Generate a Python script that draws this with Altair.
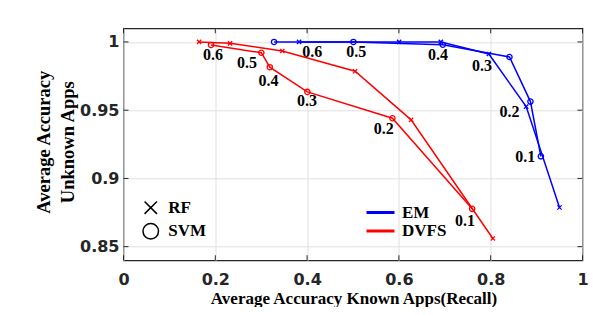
import altair as alt
import pandas as pd

# ---- data ----
thresholds = ["0.6", "0.5", "0.4", "0.3", "0.2", "0.1"]

em_rf_x = [0.3825, 0.6005, 0.6914, 0.796, 0.8773, 0.9499]
em_rf_y = [1.0, 1.0, 1.0, 0.9912, 0.9526, 0.8787]
em_svm_x = [0.328, 0.5009, 0.6957, 0.8409, 0.8866, 0.9093]
em_svm_y = [1.0, 1.0, 0.998, 0.989, 0.9563, 0.9162]
dvfs_rf_x = [0.1646, 0.2321, 0.346, 0.5046, 0.6266, 0.8047]
dvfs_rf_y = [1.0, 0.999, 0.9934, 0.9785, 0.9429, 0.856]
dvfs_svm_x = [0.1907, 0.3003, 0.3187, 0.4006, 0.5859, 0.7596]
dvfs_svm_y = [0.9978, 0.9921, 0.9815, 0.9634, 0.9441, 0.8777]

em_label_x = [0.411, 0.507, 0.685, 0.781, 0.841, 0.875]
em_label_y = [0.9927, 0.9923, 0.9905, 0.9824, 0.9484, 0.9154]
dvfs_label_x = [0.195, 0.269, 0.316, 0.400, 0.567, 0.744]
dvfs_label_y = [0.9905, 0.9848, 0.9714, 0.9568, 0.9365, 0.8691]

x_ticks = [0, 0.2, 0.4, 0.6, 0.8, 1.0]
y_ticks = [0.85, 0.9, 0.95, 1.0]

methods = ["EM", "DVFS"]
classifiers = ["RF", "SVM"]

# ---- tables ----
rows = []
for m, c, xs_, ys_ in [
    ("EM", "RF", em_rf_x, em_rf_y),
    ("EM", "SVM", em_svm_x, em_svm_y),
    ("DVFS", "RF", dvfs_rf_x, dvfs_rf_y),
    ("DVFS", "SVM", dvfs_svm_x, dvfs_svm_y),
]:
    for i, (a, b) in enumerate(zip(xs_, ys_)):
        rows.append({"method": m, "clf": c, "series": m + c, "i": i, "x": a, "y": b})
df = pd.DataFrame(rows)

lab_rows = []
for lx, ly in [(em_label_x, em_label_y), (dvfs_label_x, dvfs_label_y)]:
    for t, a, b in zip(thresholds, lx, ly):
        lab_rows.append({"t": t, "x": a, "y": b})
labels_df = pd.DataFrame(lab_rows)

xt_df = pd.DataFrame({"x": x_ticks})
yt_df = pd.DataFrame({"y": y_ticks})

W, H = 459, 232
FRAME = "#262626"
XPATH = "M-0.8,-0.8L0.8,0.8M-0.8,0.8L0.8,-0.8"
LINEPATH = "M-2,0L2,0"

xscale = alt.Scale(domain=[0, 1], nice=False, zero=False)
yscale = alt.Scale(domain=[0.84, 1.01], nice=False, zero=False)

x_enc = alt.X(
    "x:Q",
    scale=xscale,
    axis=alt.Axis(
        values=x_ticks, format="~g", title="Average Accuracy Known Apps(Recall)",
        grid=True, gridColor="#e0e0e0", gridWidth=1, ticks=False, tickSize=0, domain=False,
        labelFont="DejaVu Sans", labelFontWeight="bold", labelFontSize=16,
        labelColor=FRAME, labelPadding=11.5, labelFlush=False,
        titleFont="Liberation Serif", titleFontSize=17, titleFontWeight="bold",
        titleColor="black", titleX=230, titleY=43, titleBaseline="alphabetic",
        titleAlign="center",
    ),
)
y_enc = alt.Y(
    "y:Q",
    scale=yscale,
    axis=alt.Axis(
        values=y_ticks, format="~g", title=["Average Accuracy", "Unknown Apps"],
        grid=True, gridColor="#e0e0e0", gridWidth=1, ticks=False, tickSize=0, domain=False,
        labelFont="DejaVu Sans", labelFontWeight="bold", labelFontSize=16,
        labelColor=FRAME, labelPadding=4.5, labelFlush=False,
        titleFont="Liberation Serif", titleFontSize=18.5, titleFontWeight="bold",
        titleColor="black", titleAngle=270, titleX=-80, titleY=113.4,
        titleBaseline="middle", titleAlign="center", titleLineHeight=24,
    ),
)

color_enc = alt.Color(
    "method:N",
    scale=alt.Scale(domain=methods, range=["#0000ff", "#ff0000"]),
    legend=alt.Legend(
        title=None, orient="none", legendX=248.5, legendY=175.7,
        symbolType=LINEPATH, symbolSize=196, symbolStrokeWidth=3,
        symbolFillColor="transparent",
        labelFont="Liberation Serif", labelFontWeight="bold", labelFontSize=17,
        labelColor="black", labelOffset=13, rowPadding=0.5, padding=0,
    ),
)
shape_enc = alt.Shape(
    "clf:N",
    scale=alt.Scale(domain=classifiers, range=[XPATH, "circle"]),
    legend=alt.Legend(
        title=None, orient="none", legendX=18.75, legendY=170.9,
        symbolSize=240, symbolStrokeColor="black", symbolFillColor="transparent",
        symbolStrokeWidth=1.5,
        labelFont="Liberation Serif", labelFontWeight="bold", labelFontSize=17,
        labelColor="black", labelOffset=9, rowPadding=2.5, padding=0,
    ),
)

lines = alt.Chart(df).mark_line(strokeWidth=1.5).encode(
    x=x_enc, y=y_enc, color=color_enc, detail="series:N", order="i:Q"
)
points = alt.Chart(df).mark_point(filled=False, size=28, strokeWidth=1.3, opacity=1).encode(
    x="x:Q", y="y:Q", color=alt.Color("method:N"), shape=shape_enc
)
texts = alt.Chart(labels_df).mark_text(
    font="Liberation Serif", fontWeight="bold", fontSize=16, color="black",
    align="center", baseline="middle",
).encode(x="x:Q", y="y:Q", text="t:N")

tick_style = dict(size=5, thickness=1, color=FRAME, opacity=1)
t_bottom = alt.Chart(xt_df).mark_tick(orient="vertical", **tick_style).encode(
    x="x:Q", y=alt.value(H - 2.5))
t_top = alt.Chart(xt_df).mark_tick(orient="vertical", **tick_style).encode(
    x="x:Q", y=alt.value(2.5))
t_left = alt.Chart(yt_df).mark_tick(orient="horizontal", **tick_style).encode(
    y="y:Q", x=alt.value(2.5))
t_right = alt.Chart(yt_df).mark_tick(orient="horizontal", **tick_style).encode(
    y="y:Q", x=alt.value(W - 2.5))

chart = alt.layer(lines, t_bottom, t_top, t_left, t_right, points, texts).properties(
    width=W, height=H,
    padding={"left": 115.5, "top": 20.3, "right": 7.5, "bottom": 46.7},
    autosize=alt.AutoSizeParams(type="none"),
    background="white",
).configure_view(stroke=FRAME, strokeWidth=1.2)

chart.save("out.html", embed_options={"renderer": "svg", "actions": False})
